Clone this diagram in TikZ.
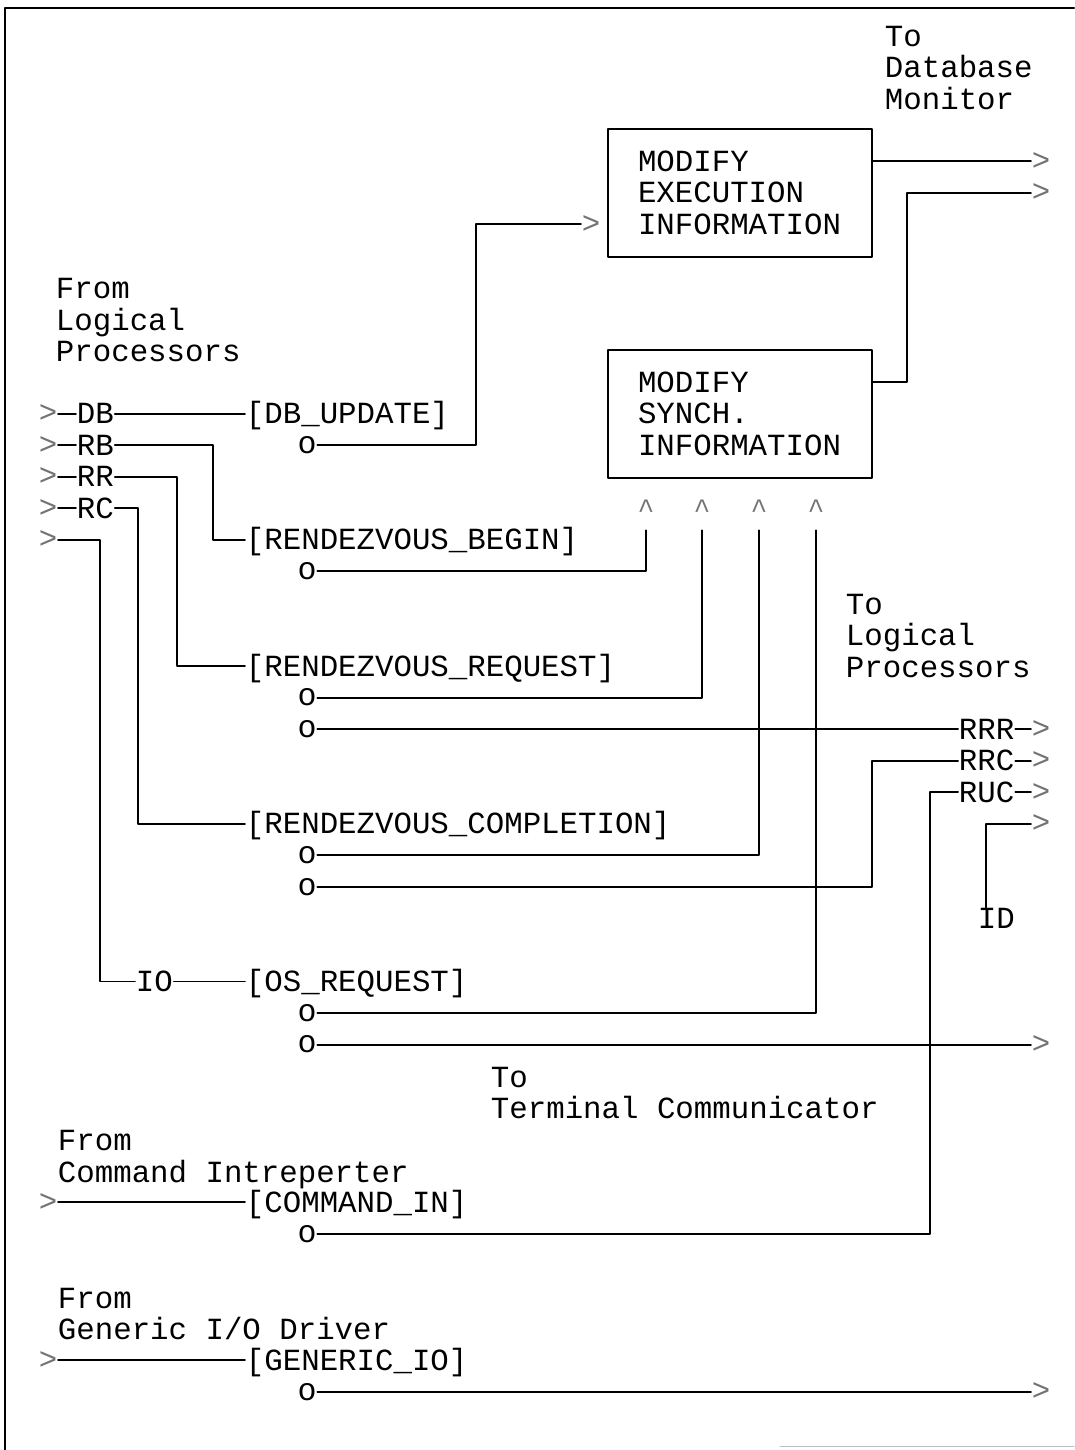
\documentclass[tikz,border=0pt]{standalone}
\usepackage{fontspec}
\usetikzlibrary{calc}
\newfontfamily\dotfont{Liberation Mono}
\newcommand{\dotsize}{\fontsize{17.5pt}{17.96pt}\selectfont}
\tikzset{
  lbl/.style={font=\dotfont\dotsize, inner sep=0pt, text height=11.5pt, text depth=0pt, anchor=west},
  blk/.style={font=\dotfont\dotsize, inner sep=0pt, align=left, anchor=north west},
  pin/.style={font=\dotfont\dotsize, inner sep=0pt, text=black!55},
  caret/.style={font=\dotfont\fontsize{16pt}{16pt}\selectfont, inner sep=0pt, text=black!55, anchor=north},
  tap/.style={font=\dotfont\fontsize{18pt}{18pt}\selectfont, inner sep=0pt},
  proc/.style={draw, font=\dotfont\dotsize, align=left, text width=40.8mm,
    inner xsep=6mm, inner ysep=0pt, minimum height=25.6mm}
}
\begin{document}
\begin{tikzpicture}[x=0.2mm,y=-6.31mm,line cap=round,line join=round,line width=1.1pt]
\useasboundingbox (0,-1.109) rectangle (1074,44.849);

% sheet edges
\draw[line width=1.4pt] (1074,-0.856) -- (5,-0.856) -- (5,44.85);
\draw[black!25,line width=0.6pt] (780,44.75) -- (1074,44.75);

% the two processes
\node[proc] (exec) at (740,5) {MODIFY\\EXECUTION\\INFORMATION};
\node[proc] (synch) at (740,12) {MODIFY\\SYNCH.\\INFORMATION};

% to database monitor
\node[blk] (toDBM) at (884,-0.317) {To\\Database\\Monitor};
\node[pin] (outDB1) at (1041,4) {\textgreater};
\node[pin] (outDB2) at (1041,5) {\textgreater};
\node[pin] (inEx) at (591,6) {\textgreater};
\draw (exec.east |- outDB1) -- (outDB1.west);
\draw ($(synch.east)+(0,-1)$) -| ($(outDB2.west)+(-124,0)$) -- (outDB2.west);

% from logical processors
\node[blk] (fromLP) at (55,7.683) {From\\Logical\\Processors};
\foreach \nm/\r in {DB/12,RB/13,RR/14,RC/15,IO/16}
  \node[pin] (in\nm) at (48,\r) {\textgreater};
\foreach \nm/\r in {DB/12,RB/13,RR/14,RC/15} {
  \node[lbl] (l\nm) at (76,\r) {\nm};
  \draw (in\nm.east) -- (l\nm.west);
}

\node[lbl] (bDB) at (245,12) {[DB\_UPDATE]};
\node[lbl] (bRB) at (245,16) {[RENDEZVOUS\_BEGIN]};
\node[lbl] (bRR) at (245,20) {[RENDEZVOUS\_REQUEST]};
\node[lbl] (bRC) at (245,25) {[RENDEZVOUS\_COMPLETION]};
\node[lbl] (lIO) at (135,30) {IO};
\node[lbl] (bOS) at (245,30) {[OS\_REQUEST]};

\draw (lDB.east) -- (bDB.west);
\draw (lRB.east) -| ($(bRB.west)+(-32,0)$) -- (bRB.west);
\draw (lRR.east) -| ($(bRR.west)+(-68,0)$) -- (bRR.west);
\draw (lRC.east) -| ($(bRC.west)+(-107,0)$) -- (bRC.west);
\draw (inIO.east) -| ($(lIO.west)+(-35,0)$) -- (lIO.west);
\draw (lIO.east) -- (bOS.west);

% taps
\foreach \k/\r in {1/13,2/17,3/21,4/22,5/26,6/27,7/31,8/32,9/38,10/43}
  \node[tap] (o\k) at (307,\r) {o};

% inputs of synch box
\foreach \k/\x in {1/646,2/702,3/759,4/816}
  \node[caret] (up\k) at (\x,14.72) {\textasciicircum};

\draw (o1.east) -| ($(inEx.west)+(-105,0)$) -- (inEx.west);
\draw (o2.east) -| ($(up1.north)+(0,0.98)$);
\draw (o3.east) -| ($(up2.north)+(0,0.98)$);
\draw (o5.east) -| ($(up3.north)+(0,0.98)$);
\draw (o7.east) -| ($(up4.north)+(0,0.98)$);

% to logical processors
\node[blk] (toLP) at (845,17.683) {To\\Logical\\Processors};
\node[lbl] (lRRR) at (958,22) {RRR};
\node[lbl] (lRRC) at (958,23) {RRC};
\node[lbl] (lRUC) at (958,24) {RUC};
\foreach \nm/\r in {RRR/22,RRC/23,RUC/24,ID/25,TC/32,Gio/43}
  \node[pin] (out\nm) at (1041,\r) {\textgreater};
\foreach \nm in {RRR,RRC,RUC}
  \draw (l\nm.east) -- (out\nm.west);
\node[lbl] (lID) at (977,28) {ID};

\draw (o4.east) -- (lRRR.west);
\draw (o6.east) -| ($(lRRC.west)+(-86,0)$) -- (lRRC.west);
\draw (o9.east) -| ($(lRUC.west)+(-28,0)$) -- (lRUC.west);
\draw (outID.west) -| ($(lID.north west)+(9,0)$);

% to terminal communicator
\node[blk] (toTC) at (490,32.683) {To\\Terminal Communicator};
\draw (o8.east) -- (outTC.west);

% command interpreter and generic io
\node[blk] (fromCI) at (57,34.683) {From\\Command Intreperter};
\node[pin] (inCmd) at (48,37) {\textgreater};
\node[lbl] (bCmd) at (245,37) {[COMMAND\_IN]};
\draw (inCmd.east) -- (bCmd.west);

\node[blk] (fromGD) at (57,39.683) {From\\Generic I/O Driver};
\node[pin] (inGio) at (48,42) {\textgreater};
\node[lbl] (bGio) at (245,42) {[GENERIC\_IO]};
\draw (inGio.east) -- (bGio.west);
\draw (o10.east) -- (outGio.west);

\end{tikzpicture}
\end{document}
